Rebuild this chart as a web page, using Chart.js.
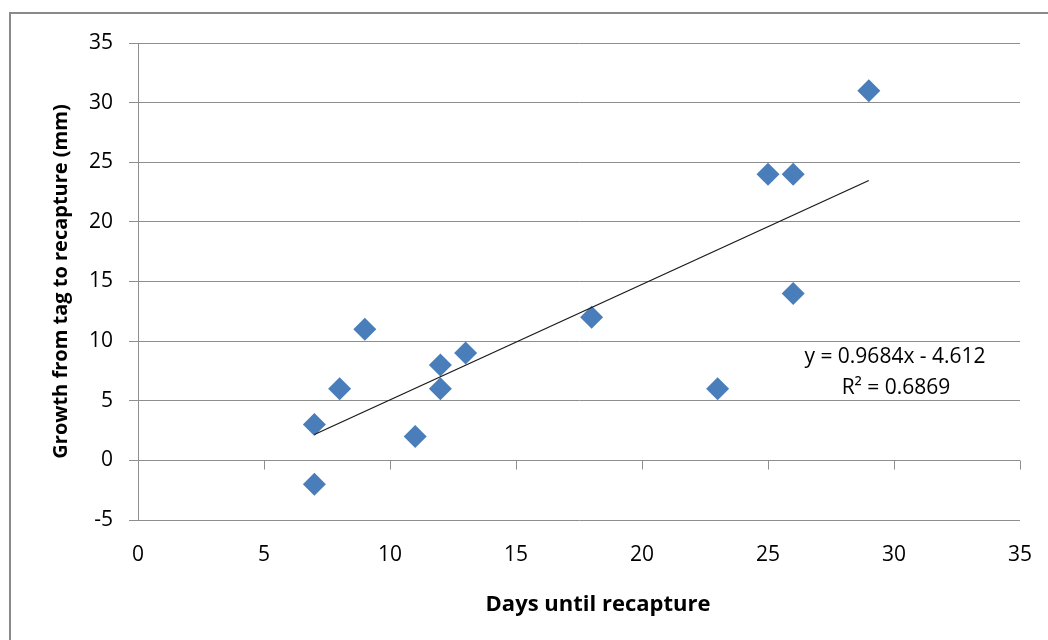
<!DOCTYPE html>
<html>
<head>
<meta charset="utf-8">
<script src="https://cdn.jsdelivr.net/npm/chart.js@4/dist/chart.umd.min.js"></script>
<style>
  html, body { margin: 0; padding: 0; background: #fff; }
  #wrap { position: relative; width: 1048px; height: 640px; }
</style>
</head>
<body>
<div id="wrap"><canvas id="growth-chart" width="1048" height="640"></canvas></div>
<script>
// days until recapture vs growth (mm)
const daysData = [7, 7, 8, 9, 11, 12, 12, 13, 18, 23, 25, 26, 26, 29];
const growthData = [3, -2, 6, 11, 2, 8, 6, 9, 12, 6, 24, 24, 14, 31];

// linear trendline end points
const trendDays = [7, 29];
const trendGrowth = [2.17, 23.47];
const trendLabels = ["y = 0.9684x - 4.612", "R\u00b2 = 0.6869"];

const xTitle = "Days until recapture";
const yTitle = "Growth from tag to recapture (mm)";

const FONT = "'Open Sans', 'DejaVu Sans', sans-serif";
const AXIS_GRAY = "#8e8e8e";

// outer frame (left and top edges are the only visible ones)
const framePlugin = {
  id: "frame",
  beforeDraw(c) {
    const ctx = c.ctx;
    ctx.save();
    ctx.strokeStyle = "#8a8a8a";
    ctx.lineWidth = 2;
    ctx.beginPath();
    ctx.moveTo(10, 640);
    ctx.lineTo(10, 13);
    ctx.lineTo(1048, 13);
    ctx.stroke();
    ctx.restore();
  }
};

// horizontal axis crosses at y = 0, ticks point down
const zeroAxisPlugin = {
  id: "zeroAxis",
  beforeDatasetsDraw(c) {
    const xs = c.scales.x, ys = c.scales.y;
    const y0 = Math.round(ys.getPixelForValue(0)) + 0.5;
    const ctx = c.ctx;
    ctx.save();
    ctx.strokeStyle = AXIS_GRAY;
    ctx.lineWidth = 1;
    ctx.beginPath();
    ctx.moveTo(xs.left, y0);
    ctx.lineTo(xs.right, y0);
    xs.ticks.forEach(t => {
      const px = Math.round(xs.getPixelForValue(t.value)) + 0.5;
      ctx.moveTo(px, y0);
      ctx.lineTo(px, y0 + 9);
    });
    ctx.stroke();
    ctx.restore();
  }
};

// equation box + x axis title (Excel puts the title a bit right of centre)
const textPlugin = {
  id: "texts",
  afterDatasetsDraw(c) {
    const ctx = c.ctx;
    ctx.save();
    ctx.fillStyle = "#000";
    ctx.textAlign = "center";
    ctx.textBaseline = "middle";
    ctx.font = "21px " + FONT;
    ctx.fillText(trendLabels[0], 895, 357);
    ctx.fillText(trendLabels[1], 896, 388);
    ctx.font = "bold 22px " + FONT;
    ctx.fillText(xTitle, 598, 605);
    ctx.restore();
  }
};

const ctx = document.getElementById("growth-chart").getContext("2d");
new Chart(ctx, {
  type: "scatter",
  data: {
    datasets: [
      {
        label: "Growth",
        data: daysData.map((d, i) => ({ x: d, y: growthData[i] })),
        pointStyle: "rectRot",
        pointRadius: 11.5,
        pointHoverRadius: 11.5,
        backgroundColor: "#4a7ebb",
        borderColor: "#4a7ebb",
        borderWidth: 0,
        order: 2,
      },
      {
        label: "Linear",
        type: "line",
        data: trendDays.map((d, i) => ({ x: d, y: trendGrowth[i] })),
        borderColor: "#1a1a1a",
        borderWidth: 1.3,
        pointRadius: 0,
        fill: false,
        order: 1,
      },
    ],
  },
  options: {
    responsive: false,
    animation: false,
    layout: { padding: { left: 0, top: 43, right: 28, bottom: 0 } },
    plugins: {
      legend: { display: false },
      tooltip: { enabled: false },
    },
    scales: {
      x: {
        type: "linear",
        min: 0,
        max: 35,
        ticks: { stepSize: 5, padding: 22, color: "#000", font: { family: FONT, size: 21 } },
        grid: { display: false, drawTicks: false },
        border: { display: false },
        title: { display: false, text: xTitle },
        afterFit: s => {
          s.height = 120;
          s.paddingLeft = 0;
          s.paddingRight = 0;
        },
      },
      y: {
        type: "linear",
        min: -5,
        max: 35,
        ticks: { stepSize: 5, padding: 16, color: "#000", font: { family: FONT, size: 21 } },
        grid: { color: AXIS_GRAY, tickLength: 9, drawTicks: true },
        border: { display: true, color: AXIS_GRAY },
        title: {
          display: true,
          text: yTitle,
          color: "#000",
          font: { family: FONT, size: 20, weight: "bold" },
          padding: { top: 49, bottom: 0 },
        },
        afterFit: s => { s.width = 138; },
      },
    },
  },
  plugins: [framePlugin, zeroAxisPlugin, textPlugin],
});
</script>
</body>
</html>
